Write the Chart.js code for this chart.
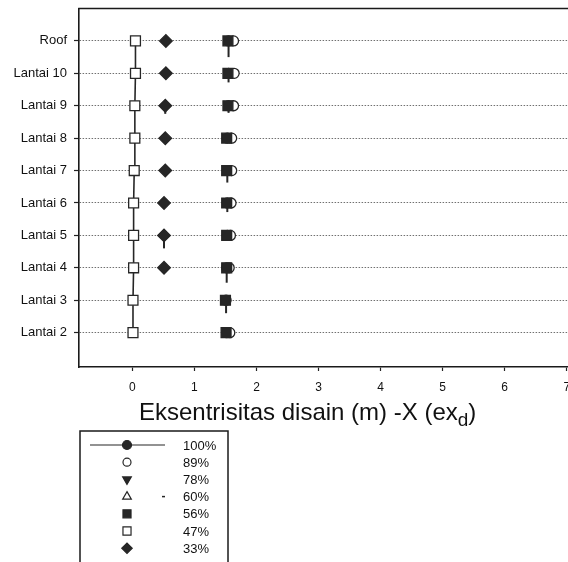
<!DOCTYPE html>
<html>
<head>
<meta charset="utf-8">
<script src="https://cdn.jsdelivr.net/npm/chart.js@4.4.0/dist/chart.umd.min.js"></script>
<style>
  html, body { margin: 0; padding: 0; background: #fff; overflow: hidden; width: 568px; height: 562px; }
  #wrap { position: relative; width: 640px; height: 562px; }
</style>
</head>
<body>
<div id="wrap"><canvas id="c" width="640" height="562"></canvas></div>
<script>
// Storeys, bottom to top (y value = index + 2)
const floors = ['Lantai 2', 'Lantai 3', 'Lantai 4', 'Lantai 5', 'Lantai 6',
                'Lantai 7', 'Lantai 8', 'Lantai 9', 'Lantai 10', 'Roof'];
const xTicks = [0, 1, 2, 3, 4, 5, 6, 7];

// Design eccentricity (m) per storey for each load percentage
const pct100 = [1.52, 1.51, 1.52, 1.53, 1.53, 1.53, 1.53, 1.55, 1.55, 1.55];
const pct89  = [1.57, null, 1.56, 1.58, 1.59, 1.60, 1.60, 1.63, 1.64, 1.63];
const pct78  = [null, null, null, null, null, null, null, null, null, null];
const pct60  = [null, null, null, null, null, null, null, null, null, null];
const pct56  = [1.51, 1.50, 1.52, 1.52, 1.52, 1.52, 1.52, 1.54, 1.54, 1.54];
const pct47  = [0.01, 0.01, 0.02, 0.02, 0.02, 0.03, 0.04, 0.04, 0.05, 0.05];
const pct33  = [null, null, 0.51, 0.51, 0.51, 0.53, 0.53, 0.53, 0.54, 0.54];

// Downward whiskers below markers (in storey units)
const tail100 = [0, 0.40, 0.46, 0, 0.28, 0.37, 0, 0.22, 0.28, 0.50];
const tail33  = [0, 0, 0, 0.40, 0, 0, 0, 0.25, 0, 0];

const FONT = "'Liberation Sans', Arial, sans-serif";
const ink = '#262626';

const pts = arr => arr.map((v, i) => ({ x: v, y: i + 2 }));

function series(label, values, style, extra) {
  return Object.assign({
    label: label,
    data: pts(values),
    pointStyle: style.shape,
    pointRotation: style.rot || 0,
    pointRadius: style.r,
    pointHoverRadius: style.r,
    pointBackgroundColor: style.open ? '#fff' : ink,
    pointBorderColor: ink,
    pointBorderWidth: 1.3,
    borderColor: ink,
    backgroundColor: ink,
    showLine: false,
    legendR: style.lr,
    legendOpen: !!style.open
  }, extra || {});
}

const datasets = [
  series('100%', pct100, { shape: 'circle', r: 5, lr: 4.5 }, { order: 6, legendLine: true, tails: tail100 }),
  series('89%', pct89, { shape: 'circle', r: 5, open: true, lr: 4 }, { order: 5 }),
  series('78%', pct78, { shape: 'triangle', rot: 180, r: 5, lr: 5 }, { order: 4 }),
  series('60%', pct60, { shape: 'triangle', r: 5, open: true, lr: 5 }, { order: 3, legendDash: true }),
  series('56%', pct56, { shape: 'rect', r: 7, lr: 5.7 }, { order: 2 }),
  series('47%', pct47, { shape: 'rect', r: 7, open: true, lr: 5.7 },
         { order: 1, showLine: true, borderWidth: 1.6 }),
  series('33%', pct33, { shape: 'rectRot', r: 6.3, lr: 5.2 }, { order: 0, tails: tail33 })
];

// Whiskers hanging below some of the markers
const tailPlugin = {
  id: 'tails',
  beforeDatasetsDraw(chart) {
    const { ctx, scales: { x, y } } = chart;
    ctx.save();
    ctx.strokeStyle = ink;
    ctx.lineWidth = 2;
    chart.data.datasets.forEach(ds => {
      if (!ds.tails) return;
      ds.data.forEach((p, i) => {
        const t = ds.tails[i];
        if (p.x == null || !t) return;
        const px = x.getPixelForValue(p.x);
        ctx.beginPath();
        ctx.moveTo(px, y.getPixelForValue(p.y));
        ctx.lineTo(px, y.getPixelForValue(p.y - t));
        ctx.stroke();
      });
    });
    ctx.restore();
  }
};

// Top frame line, axis title with subscript, and boxed legend
const decorPlugin = {
  id: 'decor',
  afterDraw(chart) {
    const { ctx, chartArea: a } = chart;
    ctx.save();
    ctx.strokeStyle = '#1a1a1a';
    ctx.lineWidth = 1.6;
    ctx.beginPath();
    ctx.moveTo(a.left - 0.8, a.top);
    ctx.lineTo(a.right, a.top);
    ctx.stroke();

    // x-axis title
    ctx.fillStyle = '#111';
    ctx.textBaseline = 'alphabetic';
    ctx.textAlign = 'left';
    let tx = 139, ty = 420;
    ctx.font = '24px ' + FONT;
    const main = 'Eksentrisitas disain (m) -X (ex';
    ctx.fillText(main, tx, ty);
    tx += ctx.measureText(main).width;
    ctx.font = '19px ' + FONT;
    ctx.fillText('d', tx, ty + 6);
    tx += ctx.measureText('d').width;
    ctx.font = '24px ' + FONT;
    ctx.fillText(')', tx, ty);

    // legend box
    const bx = 80, by = 431, bw = 148;
    ctx.lineWidth = 1.5;
    ctx.strokeStyle = '#1a1a1a';
    ctx.strokeRect(bx, by, bw, 160);
    const symX = 127, textX = 183, row0 = 445, dy = 17.2;
    ctx.font = '13px ' + FONT;
    ctx.textBaseline = 'middle';
    chart.data.datasets.forEach((ds, i) => {
      const ry = row0 + i * dy;
      ctx.strokeStyle = ink;
      ctx.lineWidth = 1.2;
      if (ds.legendLine) {
        ctx.beginPath();
        ctx.moveTo(90, ry);
        ctx.lineTo(165, ry);
        ctx.stroke();
      }
      if (ds.legendDash) {
        ctx.lineWidth = 1.5;
        ctx.beginPath();
        ctx.moveTo(162, ry);
        ctx.lineTo(165, ry);
        ctx.stroke();
        ctx.lineWidth = 1.2;
      }
      ctx.fillStyle = ds.legendOpen ? '#fff' : ink;
      Chart.helpers.drawPoint(ctx, {
        pointStyle: ds.pointStyle,
        rotation: ds.pointRotation,
        radius: ds.legendR,
        borderWidth: 1.2
      }, symX, ry);
      ctx.fillStyle = '#111';
      ctx.fillText(ds.label, textX, ry + 1);
    });
    ctx.restore();
  }
};

new Chart(document.getElementById('c'), {
  type: 'scatter',
  data: { datasets: datasets },
  plugins: [tailPlugin, decorPlugin],
  options: {
    responsive: false,
    animation: false,
    devicePixelRatio: 1,
    layout: { padding: { left: 0, top: 8.5, right: 36, bottom: 165 } },
    plugins: { legend: { display: false }, tooltip: { enabled: false } },
    scales: {
      x: {
        type: 'linear',
        min: -0.86,
        max: 7.6,
        afterBuildTicks: s => { s.ticks = xTicks.map(v => ({ value: v })); },
        afterFit: s => { s.height = 30; },
        grid: { drawOnChartArea: false, drawTicks: true, tickLength: 4, tickColor: '#222', tickWidth: 1.2 },
        border: { display: true, color: '#1a1a1a', width: 1.6 },
        ticks: { color: '#111', font: { family: FONT, size: 12 }, padding: 9, maxRotation: 0 }
      },
      y: {
        type: 'linear',
        min: 0.94,
        max: 12,
        afterBuildTicks: s => { s.ticks = floors.map((f, i) => ({ value: i + 2 })); },
        afterFit: s => { s.width = 79; s.paddingTop = 0; s.paddingBottom = 0; },
        grid: {
          color: '#707070',
          lineWidth: 1,
          drawTicks: true,
          tickLength: 5,
          tickColor: '#222',
          tickWidth: 1.2,
          tickBorderDash: []
        },
        border: { display: true, color: '#1a1a1a', width: 1.6, dash: [1.5, 1.5] },
        ticks: {
          color: '#111',
          font: { family: FONT, size: 13 },
          padding: 7,
          callback: v => floors[Math.round(v) - 2]
        }
      }
    }
  }
});
</script>
</body>
</html>
